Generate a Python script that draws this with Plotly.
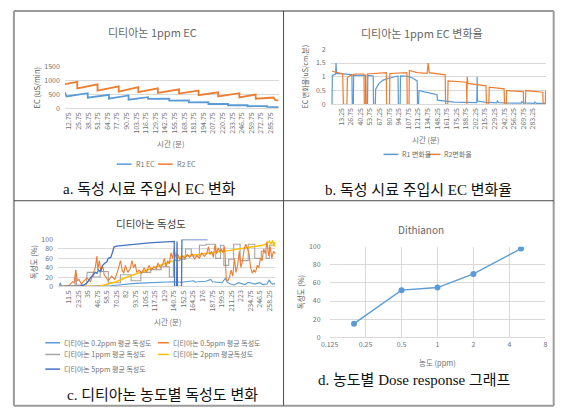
import math
import plotly.graph_objects as go

W, H = 565, 419

# ---------------- data ----------------
# a. EC (uS/min) vs time (min)
A_TICKS = ["12.75","25.75","38.75","51.75","64.75","77.75","90.75","103.75","116.75","129.75",
           "142.75","155.75","168.75","181.75","194.75","207.75","220.75","233.75","246.75",
           "259.75","272.75","285.75"]
R1_EC = [(7.0,577),(9.2,427),(37.9,542),(37.9,381),(66.7,485),(66.7,346),(93.2,462),(93.2,312),
         (119.7,400),(119.7,340),(148.4,350),(148.4,280),(174.9,290),(174.9,215),(201.4,225),
         (201.4,160),(227.9,165),(227.9,115),(254.4,120),(254.4,80),(280.9,85),(280.9,55),(296.4,50)]
R2_EC = [(7.0,865),(23.8,946),(23.8,715),(51.2,854),(51.2,635),(79.9,785),(79.9,600),(106.4,760),
         (106.4,577),(132.9,715),(132.9,554),(161.6,680),(161.6,530),(188.1,635),(188.1,473),
         (214.6,577),(214.6,427),(243.3,542),(243.3,392),(265.4,496),(265.4,346),(289.7,390),
         (291.9,300),(296.4,290)]

# b. EC change rate
B_TICKS = ["13.25","26.75","40.25","53.75","67.25","80.75","94.25","107.75","121.25","134.75",
           "148.25","161.75","175.25","188.75","202.25","215.75","229.25","242.75","256.25",
           "269.75","283.25"]
R1_RATE = [(0,0),(0.5,1.05),(5,1.1),(5.6,1.5),(6.5,1.12),(15,1.1),(28,1.08),(28.5,0),(30,0),
           (30.5,1.05),(47,1.05),(47.5,0),(50,0),(50.5,1.05),(58,1.03),(58.5,0),(61,0),(61.5,0.55),
           (66,0.75),(72,0.88),(80,0.95),(88,1.0),(93,1.02),(93.5,0),(96,0),(96.5,1.03),(106,1.02),
           (112,0.97),(120,0.85),(120.5,0),(122,0),(122.5,0.5),(130,0.45),(140,0.4),(148,0.35),
           (148.5,0.15),(160,0.12),(171,0.1),(172,0.08),(190,0.07),(204,0.06),(204.5,1.0),
           (205,0.12),(215,0.08),(232,0.05),(233,0.12),(235,0.06),(255,0.04),(267,0.04),
           (267.5,0.1),(270,0.05),(285,0.03),(286,0.08),(288,0.03),(301,0.03)]
R2_RATE = [(0,1.2),(8,1.15),(15,1.11),(16,0),(21,0),(21.6,0.97),(26,1.05),(33,1.1),(45,1.1),
           (45.5,0),(49,0),(49.5,1.1),(60,1.12),(76.5,1.15),(77,0),(81,0),(81.5,1.12),(95,1.15),
           (105.5,1.15),(106,0),(108.5,0),(109,1.23),(120,1.15),(134,1.12),(135.5,1.5),(137,1.15),
           (150,1.1),(159.5,1.07),(160,0),(163,0),(163.5,0.85),(175,0.82),(189.5,0.8),(190,0),
           (190.5,1.0),(191.5,0.76),(205,0.7),(217,0.67),(217.5,0),(221,0),(221.5,0.62),(232,0.58),
           (242.5,0.56),(243,0),(245.5,0),(246,0.5),(258,0.48),(269.5,0.46),(270,0),(272.5,0),
           (273,0.5),(285,0.46),(297,0.44),(297.5,0),(300.5,0),(301,0.5)]

# c. toxicity by concentration
C_TICKS = ["11.5","23.25","35","46.75","58.5","70.25","82","93.75","105.5","117.25","129",
           "140.75","152.5","164.25","176","187.75","199.5","211.25","223","234.75","246.5","258.25"]
TOX_02 = [(0,0),(1,8),(2,2),(3,0),(10,0),(20,1),(30,0),(40,1),(50,2),(60,1),(70,3),(80,5),(90,6),
          (100,7),(110,8),(120,8),(130,9),(140,10),(150,9),(160,10),(165,12),(167,9),(170,10),
          (180,11),(186,15),(188,10),(192,9),(200,8),(204,18),(206,9),(210,5),(215,3),(220,8),
          (225,5),(228,4),(232,9),(240,5),(246,8),(250,4),(255,5),(258,14),(260,7),(262,5),(265,6)]
TOX_05 = [(0,0),(12,2),(16,10),(18,8),(20,35),(22,12),(24,15),(27,5),(30,12),(34,18),(38,10),
          (41,25),(44,40),(46,65),(47,35),(49,55),(51,30),(53,45),(55,25),(57,20),(60,12),(64,22),
          (68,15),(71,30),(73,45),(75,55),(77,35),(79,28),(81,45),(84,30),(87,38),(89,55),(91,40),
          (93,48),(95,30),(98,35),(101,28),(104,40),(107,30),(110,45),(113,35),(116,42),(119,38),
          (121,50),(124,40),(127,48),(129,60),(131,42),(133,55),(135,48),(137,72),(139,60),(141,80),
          (143,62),(145,70),(148,58),(151,65),(154,60),(157,68),(160,62),(163,70),(166,58),(169,66),
          (172,60),(175,72),(178,64),(181,70),(183,85),(185,68),(187,75),(189,62),(191,88),(193,70),
          (195,82),(197,75),(199,80),(201,72),(203,85),(205,15),(207,12),(209,20),(211,35),(213,22),
          (215,60),(217,30),(219,45),(221,75),(223,40),(225,55),(227,80),(229,90),(231,82),(233,70),
          (235,40),(237,28),(239,35),(241,30),(243,45),(245,40),(247,60),(249,55),(251,80),(253,70),
          (255,95),(257,65),(259,85),(261,60),(263,75),(265,70)]
TOX_1 = [(0,0),(19,0),(20,35),(21,3),(33,3),(34,30),(42,30),(42,20),(50,20),(50,32),(60,32),(60,8),
         (75,8),(75,25),(88,25),(88,12),(100,12),(100,30),(112,30),(112,36),(125,36),(125,42),
         (135,42),(135,20),(140,20),(140,55),(148,55),(148,58),(155,58),(155,80),(162,80),(162,65),
         (172,65),(172,88),(180,88),(180,90),(192,90),(192,60),(198,60),(198,88),(202,88),(202,45),
         (208,45),(208,58),(214,58),(214,90),(222,90),(222,55),(232,55),(232,90),(240,90),(240,60),
         (248,60),(248,75),(254,75),(254,60),(258,60),(258,88),(265,88)]
TOX_2 = [(0,0),(30,0),(50,1),(55,3),(60,5),(70,10),(80,18),(90,24),(100,30),(110,36),(120,42),
         (130,48),(140,55),(145,60),(150,64),(160,66),(170,68),(180,70),(190,72),(200,74),(210,77),
         (220,80),(230,83),(240,86),(250,88),(255,92),(258,97),(260,90),(262,98),(264,85),(265,95)]
TOX_5 = [(0,0),(25,1),(30,3),(34,8),(38,18),(41,25),(44,30),(46,28),(48,35),(50,32),(53,45),
         (56,50),(58,52),(60,60),(63,62),(65,72),(67,84),(70,86),(80,88),(90,90),(100,92),(110,93),
         (120,94),(130,95),(141,96),(141.5,0),(144,0),(144.5,96),(145,0),(150,0),(150.5,100),
         (160,100),(182,100)]

# d. dose response
D_TICKS = ["0.125","0.25","0.5","1","2","4","8"]
D_DOSE = [0.2, 0.5, 1, 2, 5]
D_TOX = [15, 52, 55, 70, 98]

# ---------------- style ----------------
SANS = "Noto Sans CJK KR, Noto Sans, sans-serif"
SERIF = "Liberation Serif, Noto Sans CJK KR, serif"
BLUE, ORANGE, GREY, GOLD, DBLUE = "#5B9BD5", "#ED7D31", "#A5A5A5", "#FFC000", "#4472C4"
GRID = "#d9d9d9"
TICK = dict(family=SANS, size=7, color="#707070")
TITLE_C = "#666666"


def px(x):
    return x / W


def py(y):
    return 1 - y / H


def xs(pairs):
    return [p[0] for p in pairs]


def ys(pairs):
    return [p[1] for p in pairs]


fig = go.Figure()


def line(pairs, color, xa, ya, width=1.3):
    fig.add_trace(go.Scatter(x=xs(pairs), y=ys(pairs), mode="lines", xaxis=xa, yaxis=ya,
                             line=dict(color=color, width=width), showlegend=False,
                             hoverinfo="skip"))


line(R1_EC, BLUE, "x", "y", 1.8)
line(R2_EC, ORANGE, "x", "y", 1.8)
line(R1_RATE, BLUE, "x2", "y2", 1.2)
line(R2_RATE, ORANGE, "x2", "y2", 1.2)
line(TOX_02, BLUE, "x3", "y3", 1.1)
line(TOX_1, GREY, "x3", "y3", 1.1)
line(TOX_2, GOLD, "x3", "y3", 1.4)
line(TOX_05, ORANGE, "x3", "y3", 1.1)
line(TOX_5, DBLUE, "x3", "y3", 1.3)
fig.add_trace(go.Scatter(x=D_DOSE, y=D_TOX, mode="lines+markers", xaxis="x4", yaxis="y4",
                         line=dict(color=BLUE, width=1.3), marker=dict(color=BLUE, size=6),
                         showlegend=False, hoverinfo="skip"))


def xaxis(x0, x1, anchor, rng, ticks, angle=-90, **kw):
    d = dict(domain=[px(x0), px(x1)], anchor=anchor, range=rng,
             tickvals=[float(t) for t in ticks], ticktext=ticks, tickangle=angle,
             tickfont=TICK, showgrid=False, zeroline=False, showline=True,
             linecolor=GRID, linewidth=1, ticks="")
    d.update(kw)
    return d


def yaxis(y0, y1, anchor, rng, vals, **kw):
    d = dict(domain=[py(y1), py(y0)], anchor=anchor, range=rng, tickvals=vals,
             tickfont=TICK, showgrid=True, gridcolor=GRID, gridwidth=1, zeroline=False,
             showline=False, ticks="", ticklabelstandoff=4)
    d.update(kw)
    return d


fig.update_layout(
    width=W, height=H, margin=dict(l=0, r=0, t=0, b=0), autosize=False,
    paper_bgcolor="white", plot_bgcolor="white", showlegend=False,
    xaxis=xaxis(57, 275, "y", [7, 296.5], A_TICKS),
    yaxis=yaxis(61.7, 105, "x", [0, 1500], [0, 500, 1000, 1500]),
    xaxis2=xaxis(328, 548, "y2", [-2, 302], B_TICKS),
    yaxis2=yaxis(44.3, 100.7, "x2", [0, 2], [0, 0.5, 1, 1.5, 2],
                 ticktext=["0", "0.5", "1", "1.5", "2"]),
    xaxis3=xaxis(50, 271.7, "y3", [-1.8, 265.4], C_TICKS),
    yaxis3=yaxis(239.3, 287.3, "x3", [0, 100], [0, 20, 40, 60, 80, 100]),
    xaxis4=dict(domain=[px(327), px(547)], anchor="y4", type="log",
                range=[math.log10(0.125), math.log10(8)],
                tickvals=[float(t) for t in D_TICKS], ticktext=D_TICKS, tickangle=0,
                tickfont=TICK, showgrid=True, gridcolor=GRID, zeroline=False,
                showline=True, linecolor=GRID, ticks=""),
    yaxis4=yaxis(246.7, 339.3, "x4", [0, 100], [0, 20, 40, 60, 80, 100], ticklabelstandoff=8),
)

ann = []


def text(x, y, s, size, color="#595959", family=SANS, angle=0, xanchor="center"):
    ann.append(dict(x=px(x), y=py(y), xref="paper", yref="paper", text=s, showarrow=False,
                    font=dict(family=family, size=size, color=color), textangle=angle,
                    xanchor=xanchor, yanchor="middle"))


# chart titles
text(146, 27, "디티아논 1ppm EC", 11, TITLE_C)
text(421, 28, "디티아논 1ppm EC 변화율", 11, TITLE_C)
text(145, 223, "디티아논 독성도", 10.5, "#404040")
text(420, 229, "Dithianon", 10, TITLE_C)
# axis titles
text(28, 83, "EC (uS/min)", 7.5, "#595959", angle=-90)
text(165, 141, "시간 (분)", 7.5, "#707070")
text(302, 72, "EC 변화율(uS/cm.분)", 7, "#595959", angle=-90)
text(425, 137, "시간 (분)", 7.5, "#707070")
text(25, 263, "독성도 (%)", 7.5, "#595959", angle=-90)
text(162, 323, "시간 (분)", 7.5, "#707070")
text(297, 293, "독성도 (%)", 7.5, "#595959", angle=-90)
text(437, 365, "농도 (ppm)", 7.5, "#707070")
# captions
text(143, 187, "a. 독성 시료 주입시 EC 변화", 15, "#111111", SERIF)
text(418, 188, "b. 독성 시료 주입시 EC 변화율", 15, "#111111", SERIF)
text(157, 399, "c. 디티아논 농도별 독성도 변화", 15, "#111111", SERIF)
text(414, 383, "d. 농도별 Dose response 그래프", 15, "#111111", SERIF)

shapes = []


def seg(x0, y0, x1, y1, color, width):
    shapes.append(dict(type="line", xref="paper", yref="paper", x0=px(x0), y0=py(y0),
                       x1=px(x1), y1=py(y1), line=dict(color=color, width=width)))


def legend_item(x, y, color, label, length=15):
    seg(x, y, x + length, y, color, 1.5)
    text(x + length + 2, y, label, 7, "#707070", xanchor="left")


legend_item(110, 162, BLUE, "R1 EC")
legend_item(152, 162, ORANGE, "R2 EC")
legend_item(382, 152, BLUE, "R1 변화율")
legend_item(427, 152, ORANGE, "R2변화율", 13)
legend_item(37, 345, BLUE, "디티아논 0.2ppm 평균 독성도")
legend_item(152, 345, ORANGE, "디티아논 0.5ppm 평균 독성도", 11)
legend_item(37, 357, GREY, "디티아논 1ppm 평균 독성도")
legend_item(152, 357, GOLD, "디티아논 2ppm 평균독성도", 11)
legend_item(37, 372, DBLUE, "디티아논 5ppm 평균 독성도")

# table borders
OUT = "#9a9a9a"
seg(5, 5, 555.5, 5, OUT, 2)
seg(5, 5, 5, 409.5, OUT, 2)
seg(555.5, 5, 555.5, 409.5, OUT, 2)
seg(5, 409.5, 555.5, 409.5, OUT, 2)
seg(280, 5, 280, 409.5, "#4a4a4a", 1)
seg(5, 199.5, 555.5, 199.5, "#4a4a4a", 1)

fig.update_layout(annotations=ann, shapes=shapes)
fig.write_html("out.html", config={"displayModeBar": False},
               post_script="document.body.style.margin='0';")
